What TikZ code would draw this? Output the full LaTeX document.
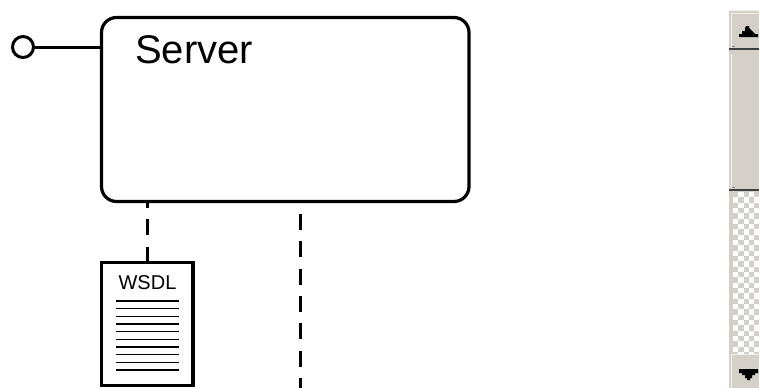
\documentclass[tikz,border=0pt]{standalone}
\usepackage{fontspec}
\setmainfont{Liberation Sans}
\definecolor{sbface}{HTML}{D4D0C8}
\definecolor{sbdark}{HTML}{404040}
\definecolor{sbshadow}{HTML}{808080}
\tikzset{
  ln/.style={line width=3.2pt,draw=black},
  serverbox/.style={ln,rounded corners=15pt,minimum width=367.5pt,minimum height=184pt,inner sep=0pt,outer sep=0pt,anchor=north west},
  docbox/.style={ln,minimum width=91.5pt,minimum height=123pt,inner sep=0pt,outer sep=0pt,anchor=north west},
  port/.style={circle,line width=3pt,draw=black,minimum size=21pt,inner sep=0pt,outer sep=0pt},
  dashconn/.style={line width=3.3pt,draw=black,dash pattern=on 16pt off 11.3pt},
  docline/.style={line width=1.5pt,draw=black},
  sbtext/.style={fill=black,draw=none}
}
\begin{document}
\begin{tikzpicture}[x=1pt,y=-1pt]
\useasboundingbox (0,0) rectangle (759,388);
\fill[white] (0,0) rectangle (759,388);
% server
\node[serverbox] (server) at (101.5,17.5) {};
\node[anchor=base west,font=\fontsize{40}{40}\selectfont,inner sep=0pt] (srvlabel) at (135,63.5) {Server};
\node[port] (port) at (23,47) {};
\coordinate (portend) at (server.west |- port);
\draw[ln,line width=3pt] (port) -- (portend);
% wsdl
\node[docbox] (doc) at (101.5,262.5) {};
\node[anchor=base,font=\fontsize{20}{20}\selectfont,inner sep=0pt] (doclabel) at (147.5,289.5) {WSDL};
\foreach \i in {0,...,9}{
  \coordinate (dl\i) at (116,301+7.67*\i);
  \coordinate (dr\i) at (178.5,301+7.67*\i);
  \draw[docline] (dl\i) -- (dr\i);
}
% dashed
\coordinate (svrb) at (147.4,201);
\draw[dashconn] (doc.north -| svrb) -- (svrb);
\coordinate (lifetop) at (300.6,214);
\coordinate (lifebot) at (300.6,388);
\draw[dashconn] (lifetop) -- (lifebot);
% scrollbar
\fill[sbface] (729,10) rectangle (759,388);
\fill[white] (729,192) rectangle (759,355);
\begin{scope}
\clip (733,192) rectangle (759,355);
\foreach \r in {0,...,30}{
  \foreach \c in {0,...,5}{
    \pgfmathtruncatemacro{\odd}{mod(\r+\c,2)}
    \ifnum\odd=0
      \fill[sbface] (733+5.33*\c,192+5.33*\r) rectangle +(5.33,5.33);
    \fi
  }
}
\end{scope}
\fill[sbface] (729,192) rectangle (733,355);
% button and thumb highlights
\fill[white!70!sbface] (729,10) rectangle (759,11);
\fill[white!70!sbface] (731,13) rectangle (759,14);
\fill[white!70!sbface] (731,13) rectangle (732,48);
\fill[white!70!sbface] (731,54) rectangle (732,188);
\fill[white!70!sbface] (731,354) rectangle (759,355);
\fill[white!70!sbface] (731,355) rectangle (732,388);
% separators
\fill[sbdark] (729,48) rectangle (759,50);
\fill[sbdark] (729,189) rectangle (759,191);
\fill[sbshadow] (732,46) rectangle (735,47);
\fill[sbshadow] (732,187) rectangle (735,188);
% arrows
\fill[sbtext] (739,37) -- (739,34) -- (742,34) -- (742,31) -- (745,31) -- (745,28) -- (746,26) -- (749,26) -- (749,28) -- (752,31) -- (755,34) -- (758,34) -- (758,37) -- cycle;
\fill[sbtext] (739,369) -- (758,369) -- (758,373) -- (755,373) -- (755,375) -- (752,375) -- (752,378) -- (750,378) -- (750,380) -- (747,380) -- (747,378) -- (745,378) -- (745,375) -- (742,375) -- (742,373) -- (739,373) -- cycle;
\end{tikzpicture}
\end{document}
